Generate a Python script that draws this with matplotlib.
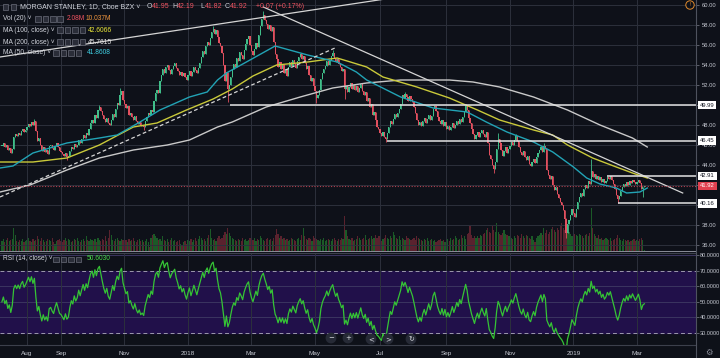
import numpy as np
import pandas as pd
import matplotlib
matplotlib.use("Agg")
import matplotlib.pyplot as plt
from matplotlib.patches import Rectangle

plt.rcParams['font.family'] = ['Liberation Sans', 'DejaVu Sans']

# === Data (daily closes) ===
close_2017 = [
    45.9, 46.2, 45.8, 46.0, 45.5, 45.7, 45.2, 45.6, 46.8, 47.1, 46.9, 47.2, 47.0, 47.4, 47.6, 47.3, 47.5,  # Jul
    47.8, 48.1, 47.9, 48.3, 48.0, 48.4, 47.4, 46.4, 46.7, 46.0, 45.4, 45.8, 45.3, 45.5, 45.1, 45.9,
    46.0, 45.7, 45.5, 45.9, 46.2, 45.8, 45.4,  # Aug
    45.3, 45.1, 44.9, 45.2, 44.8, 44.9, 45.4, 45.8, 45.6, 46.1, 45.8, 46.0, 46.5, 46.2, 46.6, 47.0,
    46.7, 47.2, 47.0, 47.6, 48.2,  # Sep
    48.5, 48.2, 49.0, 48.7, 49.5, 49.8, 49.4, 49.0, 48.6, 48.3, 48.7, 48.2, 48.0, 48.5, 49.1, 48.8,
    49.6, 50.2, 50.0, 51.0, 51.4, 50.5,  # Oct
    50.1, 49.7, 49.9, 49.0, 49.2, 48.8, 48.5, 48.9, 48.4, 48.1, 48.3, 47.9, 48.0, 47.8, 48.4, 48.8,
    49.2, 49.0, 49.5, 49.3, 50.4, 51.2,  # Nov
    51.5, 51.2, 52.4, 53.0, 53.6, 53.2, 53.8, 54.0, 53.5, 53.1, 53.6, 53.9, 54.2, 53.7, 53.4, 53.0,
    53.3, 52.9, 53.2, 52.8, 52.5,  # Dec
]
close_2018 = [
    53.0, 53.4, 52.9, 53.3, 53.8, 53.5, 53.2, 53.7, 54.2, 54.8, 55.4, 55.1, 55.9, 56.3, 56.0, 56.7,
    57.3, 57.6, 57.1, 57.5, 56.8, 56.2, 55.9,  # Jan
    55.2, 54.0, 52.4, 53.3, 51.6, 52.0, 52.8, 53.6, 54.1, 53.8, 54.7, 54.4, 55.3, 55.0, 54.6, 55.5,
    56.1, 56.6, 56.9, 56.0,  # Feb
    55.4, 55.0, 55.6, 56.2, 55.8, 57.0, 57.9, 58.6, 59.0, 58.5, 58.1, 57.6, 58.0, 57.4, 57.8, 56.3,
    55.1, 54.6, 53.8, 54.3, 53.6, 54.0,  # Mar
    53.2, 53.6, 52.9, 53.8, 54.3, 53.9, 54.5, 54.1, 53.7, 54.4, 54.8, 55.1, 54.6, 54.9, 54.2, 53.6,
    53.9, 53.0, 52.4, 52.7, 51.9,  # Apr
    51.4, 50.7, 51.0, 51.5, 52.6, 53.2, 53.6, 53.9, 54.4, 54.0, 54.5, 54.9, 55.2, 54.7, 54.3, 54.6,
    54.1, 53.8, 53.4, 53.6, 51.6, 51.9, 51.3,  # May
    51.8, 52.2, 51.6, 52.0, 51.5, 51.9, 51.3, 51.7, 52.1, 51.4, 51.0, 51.3, 50.4, 50.7, 49.8, 50.1,
    49.0, 49.3, 48.5, 47.8, 47.6,  # Jun
    47.2, 46.9, 47.3, 46.8, 46.6, 47.2, 47.8, 48.4, 48.1, 48.6, 49.1, 48.8, 49.2, 49.6, 50.1, 51.0,
    50.7, 51.1, 50.8, 50.4, 50.9, 50.6,  # Jul
    50.3, 49.8, 49.2, 48.5, 48.0, 48.3, 47.9, 48.4, 48.7, 48.2, 48.6, 49.0, 48.5, 48.9, 49.6, 49.9,
    49.4, 48.8, 48.4, 48.1, 48.5, 47.9, 48.3,  # Aug
    47.6, 47.9, 47.5, 47.8, 48.2, 47.7, 48.0, 48.4, 48.1, 48.6, 48.3, 48.8, 49.3, 49.9, 49.5, 48.7,
    48.2, 47.6, 47.1, 46.6,  # Sep
    47.0, 47.3, 46.8, 47.2, 47.5, 47.1, 46.8, 47.3, 46.2, 45.0, 44.6, 44.0, 43.6, 44.3, 45.6, 46.6,
    46.2, 45.5, 44.9, 45.4, 45.8, 45.2, 45.6,  # Oct
    45.9, 46.3, 46.0, 46.5, 46.9, 46.4, 45.8, 45.3, 45.0, 45.4, 44.8, 44.5, 44.9, 44.1, 43.9, 44.3,
    44.6, 44.2, 44.8, 45.2, 45.5, 45.8,  # Nov
    45.3, 45.9, 45.6, 43.5, 43.0, 42.6, 42.9, 42.0, 41.5, 41.8, 41.1, 40.7, 40.3, 40.0, 39.5, 38.6,
    37.2, 38.1, 38.5, 39.0, 39.6,  # Dec
]
close_2019 = [
    39.2, 38.8, 39.6, 40.3, 40.8, 41.2, 40.9, 41.6, 42.0, 41.7, 42.4, 42.1, 43.4, 42.8, 43.1, 42.6,
    42.9, 42.5, 42.8, 42.3, 42.6, 42.2, 42.4,  # Jan
    42.8, 42.6, 42.9, 42.5, 42.1, 41.6, 41.0, 40.6, 40.9, 41.4, 41.8, 42.1, 41.9, 42.3, 42.0, 42.4,
    42.2, 42.5, 42.3, 42.1,  # Feb
    42.3, 42.5, 42.2, 41.6, 41.85, 41.92,  # Mar
]

# volume in millions
vol_2017 = [
    9, 11, 8, 10, 12, 9, 10, 11, 20, 14, 9, 8, 10, 9, 11, 8, 9,
    10, 12, 9, 8, 11, 9, 10, 13, 11, 9, 12, 10, 8, 9, 11, 10, 9, 12, 8, 7, 9, 10, 11,
    9, 8, 10, 12, 9, 11, 10, 8, 9, 11, 10, 12, 9, 8, 10, 11, 9, 13, 10, 9, 11,
    10, 9, 11, 8, 12, 10, 9, 11, 10, 13, 9, 12, 18, 14, 10, 9, 11, 12, 10, 9, 11, 10,
    9, 10, 8, 11, 9, 10, 12, 9, 8, 10, 11, 9, 10, 8, 9, 11, 8, 4, 12, 14, 15, 13,
    12, 10, 11, 9, 13, 10, 9, 11, 8, 10, 12, 9, 10, 8, 9, 10, 7, 6, 8, 9, 7,
]
vol_2018 = [
    10, 9, 11, 8, 10, 12, 9, 11, 13, 12, 10, 11, 9, 12, 14, 19, 12, 10, 11, 9, 12, 13, 11,
    12, 14, 17, 15, 20, 16, 13, 12, 11, 10, 9, 11, 10, 9, 12, 10, 11, 9, 10, 12,
    11, 10, 12, 9, 11, 10, 13, 12, 10, 9, 11, 12, 10, 11, 9, 12, 14, 19, 15, 12, 13, 11,
    12, 10, 11, 9, 10, 12, 11, 10, 9, 11, 12, 10, 14, 20, 13, 11, 10, 12, 11, 9, 13,
    12, 11, 10, 9, 11, 10, 12, 9, 10, 11, 10, 9, 11, 12, 10, 9, 11, 10, 12, 11, 30, 18, 13,
    11, 10, 12, 9, 10, 11, 13, 12, 10, 11, 12, 14, 10, 11, 12, 13, 11, 12, 14, 12, 13,
    13, 9, 11, 12, 14, 12, 11, 13, 12, 17, 14, 12, 11, 13, 10, 12, 11, 10, 13, 12, 11, 10,
    11, 12, 10, 13, 12, 11, 10, 9, 11, 10, 12, 9, 10, 11, 9, 10, 8, 9, 10, 11, 9, 10, 8,
    10, 11, 9, 12, 10, 11, 13, 12, 10, 11, 14, 12, 13, 11, 15, 16, 22, 14, 12, 13,
    12, 13, 12, 14, 13, 15, 16, 18, 20, 17, 16, 22, 18, 17, 24, 17, 15, 14, 16, 18, 15, 14, 13,
    13, 12, 11, 13, 12, 14, 13, 12, 15, 13, 12, 14, 13, 12, 11, 13, 10, 8, 12, 13, 14, 16,
    14, 20, 16, 18, 15, 17, 19, 21, 18, 17, 20, 18, 22, 24, 20, 18, 28, 21, 17, 15, 13,
]
vol_2019 = [
    16, 15, 14, 13, 15, 14, 13, 12, 14, 15, 13, 16, 37, 20, 15, 13, 12, 14, 11, 12, 10, 11, 12,
    11, 10, 12, 9, 10, 11, 12, 14, 12, 10, 9, 11, 10, 9, 10, 8, 9, 10, 11, 9,
    10, 9, 11, 12, 10, 2.08,
]

# notable wick extremes (bar index, price)
wick_high_idx = [22, 66, 80, 143, 177, 224, 273, 314, 336, 348, 367, 399]
wick_high_val = [48.6, 50.0, 51.7, 57.9, 59.4, 55.5, 51.3, 50.1, 47.2, 47.1, 46.2, 44.6]
wick_low_idx = [44, 96, 153, 213, 232, 260, 333, 382, 417, 434]
wick_low_val = [44.5, 47.5, 50.3, 50.2, 50.6, 46.3, 43.2, 36.7, 40.2, 40.8]

# moving averages (bar index, value)
ma50_idx = [-1.3, 7.5, 21, 44, 66, 78, 93.5, 107, 127, 139, 146, 152, 168, 185, 207, 227, 240, 247,
            270, 292, 315, 328, 342, 360, 373, 387, 396, 405, 416, 423, 432, 437]
ma50_val = [43.7, 43.9, 45.2, 46.2, 46.7, 47.0, 48.3, 49.5, 50.8, 51.3, 52.5, 53.2, 54.5, 55.9, 55.0,
            54.3, 53.3, 52.5, 50.8, 49.7, 49.3, 48.3, 47.3, 46.3, 45.3, 43.8, 42.7, 42.1, 41.7, 41.2,
            41.3, 41.7]
ma100_idx = [-1.3, 21, 44, 66, 89, 105, 125, 143, 156, 170, 186, 207, 227, 236, 247, 258, 281, 303,
             322, 337, 360, 373, 383, 400, 416, 427, 437]
ma100_val = [44.3, 44.3, 44.7, 46.0, 47.8, 48.2, 49.5, 50.6, 51.6, 52.9, 54.0, 54.3, 54.7, 54.3, 53.8,
             52.8, 51.8, 50.7, 49.5, 48.5, 47.5, 47.0, 46.0, 44.7, 43.8, 43.2, 42.7]
ma200_idx = [-1.3, 19, 44, 66, 89, 112, 127, 146, 156, 179, 202, 224, 247, 270, 303, 319, 337, 360,
             383, 405, 427, 437]
ma200_val = [41.3, 42.0, 43.5, 44.7, 45.5, 46.0, 46.5, 47.8, 48.3, 49.8, 50.8, 51.7, 52.2, 52.5, 52.5,
             52.3, 51.8, 50.8, 49.5, 48.0, 46.7, 45.8]

# drawn trend lines (bar index, price)
channel_top = [(-1.3, 54.8), (300, 61.5)]
channel_dashed = [(-1.3, 40.8), (225.5, 55.7)]
down_trend = [(177, 59.8), (461, 41.2)]
level_prices = [49.99, 46.45, 42.91, 40.16]
level_start = [154.5, 261, 410, 417]
last_price = 41.92

tick_months = ['2017-08', '2017-09', '2017-11', '2018-01', '2018-03', '2018-05',
               '2018-07', '2018-09', '2018-11', '2019-01', '2019-03']
tick_labels = ['Aug', 'Sep', 'Nov', '2018', 'Mar', 'May', 'Jul', 'Sep', 'Nov', '2019', 'Mar']
price_ticks = [36, 38, 40, 42, 44, 46, 48, 50, 52, 54, 56, 58, 60]
hidden_ticks = [40, 42, 50]  # covered by the level boxes on the scale

# === Derived series ===
close = pd.Series(close_2017 + close_2018 + close_2019)
volume = np.array(vol_2017 + vol_2018 + vol_2019)
assert len(close) == len(volume)
dates = pd.bdate_range('2017-07-07', periods=len(close))
idx = np.arange(len(close))
opens = close.shift(1).fillna(close.iloc[0])
up = (close >= opens).values
highs = np.maximum(opens, close).values
lows = np.minimum(opens, close).values
highs[wick_high_idx] = wick_high_val
lows[wick_low_idx] = wick_low_val

# RSI(14), Wilder smoothing; seeded with equal gain/loss since history before the window is not shown
delta = close.diff().fillna(0).values
seed = np.abs(delta[1:15]).mean() / 2
g, l = seed, seed
rsi = []
for d in delta:
    g = (g * 13 + max(d, 0)) / 14
    l = (l * 13 + max(-d, 0)) / 14
    rsi.append(100 - 100 / (1 + g / l))
rsi = np.array(rsi)

tick_idx = [int(np.searchsorted(dates, pd.Timestamp(m + '-01'))) for m in tick_months]

# === Styling ===
BG = '#0e1119'
GRID = '#2c303c'
TXT = '#c3c6cf'
UP, DOWN = '#40bf8a', '#e2505f'
W, H = 720, 358
XL = (-1.3, 470)


def fx(x):
    return x / W


def fy(y):
    return 1 - y / H


fig = plt.figure(figsize=(7.2, 3.58), dpi=100, facecolor=BG)
rect_price = [0, fy(252), 696 / W, 252 / H]

# volume underneath
ax_vol = fig.add_axes(rect_price)
ax_vol.bar(idx, volume, width=0.8, linewidth=0,
           color=np.where(up, '#1d6329', '#632431'), alpha=0.9)
ax_vol.set_xlim(XL)
ax_vol.set_ylim(0, 210)
ax_vol.axis('off')

ax = fig.add_axes(rect_price)
ax.patch.set_alpha(0)
ax.set_xlim(XL)
ax.set_ylim(35.3, 60.5)
ax.set_yticks(price_ticks)
ax.yaxis.tick_right()
ax.set_yticklabels(['' if v in hidden_ticks else f'{v:.2f}' for v in price_ticks])
ax.set_xticks(tick_idx)
ax.tick_params(axis='x', bottom=False, labelbottom=False)
ax.tick_params(axis='y', length=2.5, width=0.6, color='#6a6d78', labelsize=4.2,
               labelcolor=TXT, pad=1.5)
ax.grid(True, color=GRID, lw=0.7)
for s in ax.spines.values():
    s.set_visible(False)

# candles
cols = np.where(up, UP, DOWN)
ax.vlines(idx, lows, highs, colors=cols, lw=0.6, zorder=2)
ax.bar(idx, np.maximum(np.abs(close - opens), 0.06), bottom=np.minimum(opens, close),
       width=0.8, color=cols, linewidth=0, zorder=2)

# moving averages
ax.plot(ma200_idx, ma200_val, color='#c9c9c9', lw=1.0, zorder=3)
ax.plot(ma100_idx, ma100_val, color='#c9c93a', lw=1.0, zorder=3)
ax.plot(ma50_idx, ma50_val, color='#22a3b5', lw=1.0, zorder=3)

# drawings
for (x0, y0), (x1, y1) in [channel_top, down_trend]:
    ax.plot([x0, x1], [y0, y1], color='#d5d5d5', lw=0.9, zorder=4)
(x0, y0), (x1, y1) = channel_dashed
ax.plot([x0, x1], [y0, y1], color='#d5d5d5', lw=0.9, ls=(0, (3, 2)), zorder=4)
for p, s in zip(level_prices, level_start):
    ax.hlines(p, s, XL[1], color='#e4e4e4', lw=1.1, zorder=4)
ax.axhline(last_price, color='#b3404f', lw=0.8, ls=(0, (1, 1.5)), zorder=4)
ax.axhline(35.45, color='#8a8d99', lw=0.7, zorder=4)

ytr = ax.get_yaxis_transform()
for p in level_prices:
    ax.text(1.0 + 4 / 696, p, f'{p:.2f}', transform=ytr, ha='left', va='center', fontsize=4.2,
            color='#131722', zorder=6, clip_on=False,
            bbox=dict(boxstyle='square,pad=0.3', fc='white', ec='none'))
ax.text(1.0 + 4 / 696, last_price, f'{last_price:.2f}', transform=ytr, ha='left', va='center',
        fontsize=4.2, color='white', zorder=6, clip_on=False,
        bbox=dict(boxstyle='square,pad=0.3', fc='#e0404f', ec='none'))

# === RSI pane ===
ax_r = fig.add_axes([0, fy(345), 696 / W, (345 - 253) / H])
ax_r.set_facecolor(BG)
ax_r.set_xlim(XL)
ax_r.set_ylim(22.3, 81.3)
ax_r.axhspan(30, 70, color='#21104a', zorder=0)
for lv in (40, 50, 60, 80):
    ax_r.axhline(lv, color='#3b3560', lw=0.7, zorder=1)
for t in tick_idx:
    ax_r.axvline(t, color=GRID, lw=0.7, zorder=1)
ax_r.axhline(70, color='#9c99ad', lw=0.7, ls=(0, (4, 3)), zorder=2)
ax_r.axhline(30, color='#9c99ad', lw=0.7, ls=(0, (4, 3)), zorder=2)
ax_r.plot(idx, rsi, color='#35c435', lw=0.9, zorder=3)
ax_r.yaxis.tick_right()
ax_r.set_yticks([30, 40, 50, 60, 70, 80])
ax_r.set_yticklabels([f'{v:.4f}' for v in (30, 40, 50, 60, 70, 80)])
ax_r.tick_params(axis='y', length=2, width=0.6, color='#6a6d78', labelsize=4.0,
                 labelcolor=TXT, pad=1)
ax_r.set_xticks(tick_idx)
ax_r.set_xticklabels(tick_labels)
ax_r.tick_params(axis='x', length=0, labelsize=4.6, labelcolor=TXT, pad=4)
for s in ax_r.spines.values():
    s.set_visible(False)
ax_r.spines['top'].set_visible(True)
ax_r.spines['top'].set_color('#3c404c')
ax_r.spines['bottom'].set_visible(True)
ax_r.spines['bottom'].set_color('#3c404c')

# right scale separator
fig.add_artist(plt.Line2D([fx(696), fx(696)], [0, 1], color='#4e525e', lw=0.8))

# === Header legend ===
def icon_boxes(x0, y):
    for k in range(4):
        fig.add_artist(Rectangle((fx(x0 + k * 7.5), fy(y + 3)), 5.5 / W, 5.5 / H,
                                 transform=fig.transFigure, fc='#2a2d38', ec='#6b6e7a', lw=0.5))


def htext(x, y, s, color='#d1d4dc', size=4.8):
    fig.text(fx(x), fy(y), s, color=color, fontsize=size, ha='left', va='center')


fig.add_artist(Rectangle((fx(3), fy(10)), 5 / W, 6 / H, transform=fig.transFigure,
                         fc='#2a2d38', ec='#6b6e7a', lw=0.5))
fig.add_artist(Rectangle((fx(11), fy(10)), 5 / W, 6 / H, transform=fig.transFigure,
                         fc='#2a2d38', ec='#6b6e7a', lw=0.5))
htext(20, 7, 'MORGAN STANLEY, 1D, Cboe BZX \u02c5', size=5.0)
ohlc = [('O', '41.95', 147), ('H', '42.19', 172), ('L', '41.82', 200), ('C', '41.92', 225)]
for letter, val, x in ohlc:
    htext(x, 7, letter, size=5.0)
    htext(x + 4.8, 7, val, color='#ef5360', size=5.0)
htext(256, 7, '+0.07 (+0.17%)', color='#ef5360', size=5.0)

htext(3, 19, 'Vol (20) \u02c5')
icon_boxes(35, 19)
htext(67, 19, '2.08M', color='#ef5360')
htext(86, 19, '10.037M', color='#f0953e')

htext(3, 30, 'MA (100, close) \u02c5')
icon_boxes(57, 30)
htext(88, 30, '42.6066', color='#ecea3a')

htext(3, 42, 'MA (200, close) \u02c5')
icon_boxes(57, 42)
htext(88, 42, '45.7615', color='#e8e8e8')

htext(3, 53, 'MA (50, close) \u02c5')
icon_boxes(53, 53)
htext(87, 53, '41.8608', color='#3fd0e3')

htext(3, 259, 'RSI (14, close) \u02c5')
icon_boxes(53, 259)
htext(87, 259, '50.6030', color='#48d848')

# chart UI buttons
for x, y, s in [(331, 338, '\u2212'), (348, 338, '+'), (371, 339, '<'), (388, 339, '>'),
                (411, 339, '\u21bb')]:
    fig.text(fx(x), fy(y), s, color='#d8dae0', fontsize=5, ha='center', va='center',
             family=['DejaVu Sans'],
             bbox=dict(boxstyle='circle,pad=0.35', fc='#262a36', ec='none'))
fig.text(fx(690), fy(5), '!', color='#e08a2c', fontsize=3.5, ha='center', va='center',
         bbox=dict(boxstyle='circle,pad=0.35', fc=BG, ec='#e08a2c', lw=0.7))
fig.text(fx(709), fy(352), '\u2699', color='#8a8d99', fontsize=6, ha='center', va='center',
         family=['DejaVu Sans'])

fig.savefig('out.png', dpi=100, facecolor=BG)
